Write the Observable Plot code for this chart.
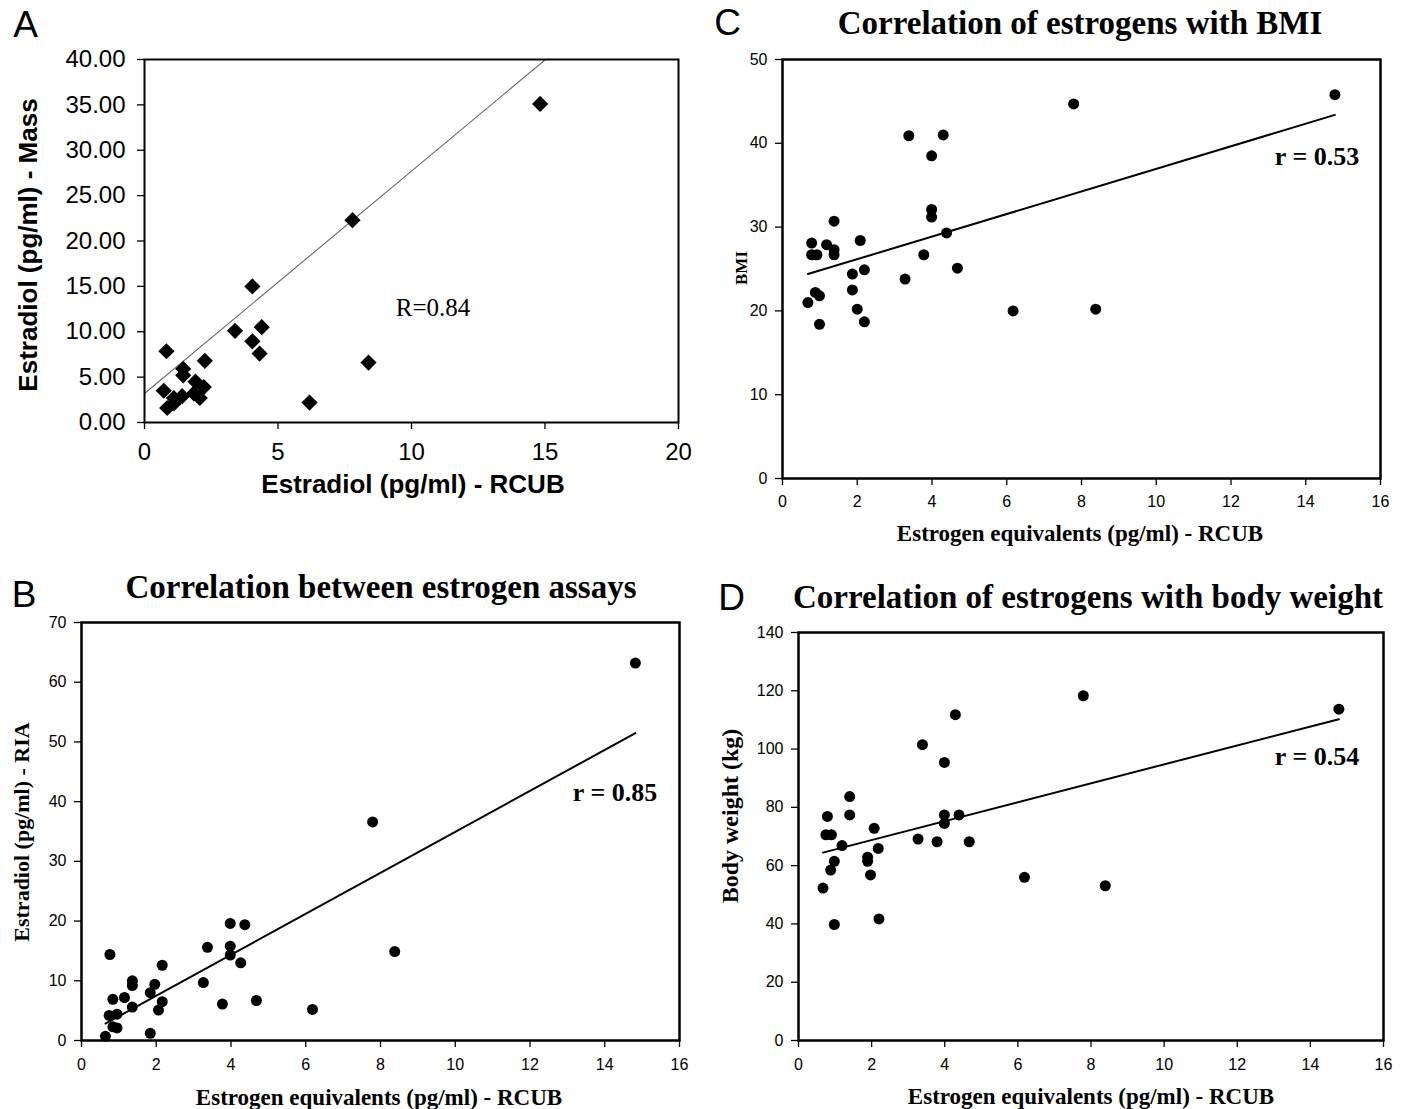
<!DOCTYPE html>
<html><head><meta charset="utf-8">
<script src="https://cdn.jsdelivr.net/npm/d3@7"></script>
<script src="https://cdn.jsdelivr.net/npm/@observablehq/plot@0.6"></script>
<style>
html,body{margin:0;padding:0;background:#fff;}
#page{position:relative;width:1403px;height:1109px;background:#fff;overflow:hidden;}
.panel{position:absolute;}
.t{position:absolute;transform:translate(-50%,-50%);line-height:1;white-space:nowrap;color:#000;}
.rot{transform:translate(-50%,-50%) rotate(-90deg);}
.sans{font-family:"Liberation Sans",Arial,sans-serif;}
.serif{font-family:"Liberation Serif","Times New Roman",serif;}
.b{font-weight:bold;}
</style></head><body><div id="page"></div>
<script>
// ---------- DATA ----------
// Panel A: Estradiol (pg/ml) - RCUB vs Estradiol (pg/ml) - Mass
const rcubA = [14.82, 7.79, 4.04, 3.39, 4.39, 4.04, 4.31, 8.39, 6.18, 0.82, 2.26, 1.45, 1.45, 0.72, 1.91, 2.22, 1.41, 1.10, 2.07, 0.85, 1.10, 1.85];
const massA = [35.1, 22.3, 15.0, 10.1, 10.5, 8.95, 7.6, 6.6, 2.2, 7.85, 6.8, 5.9, 5.2, 3.5, 4.5, 3.9, 2.9, 2.7, 2.7, 1.6, 2.1, 3.2];

// Panel B: Estrogen equivalents (RCUB) vs Estradiol RIA
const rcubB = [14.82, 7.79, 8.38, 6.18, 3.98, 4.37, 3.37, 3.98, 3.98, 4.26, 3.26, 3.77, 4.68, 0.76, 2.16, 1.36, 1.36, 1.96, 1.84, 0.84, 1.15, 1.36, 2.16, 2.06, 0.74, 0.95, 0.84, 0.95, 1.84, 0.64];
const riaB  = [63.2, 36.6, 14.9, 5.2, 19.6, 19.4, 15.6, 15.8, 14.3, 13.0, 9.7, 6.1, 6.7, 14.4, 12.6, 10.0, 9.2, 9.4, 8.0, 6.9, 7.2, 5.6, 6.5, 5.1, 4.2, 4.4, 2.3, 2.1, 1.2, 0.7];

// Panel C: Estrogen equivalents (RCUB) vs BMI
const rcubC = [14.78, 7.79, 3.38, 4.30, 3.99, 3.99, 3.99, 4.39, 1.38, 2.08, 0.78, 1.18, 1.38, 1.38, 0.78, 0.92, 3.78, 4.68, 2.19, 1.87, 3.28, 1.87, 0.88, 0.99, 0.68, 2.00, 6.17, 8.38, 0.99, 2.19];
const bmiC  = [45.8, 44.7, 40.9, 41.0, 38.5, 32.1, 31.2, 29.3, 30.7, 28.4, 28.1, 27.9, 27.3, 26.7, 26.7, 26.7, 26.7, 25.1, 24.9, 24.4, 23.8, 22.5, 22.2, 21.8, 21.0, 20.2, 20.0, 20.2, 18.4, 18.7];

// Panel D: Estrogen equivalents (RCUB) vs Body weight (kg)
const rcubD   = [14.78, 7.79, 4.29, 3.39, 3.99, 1.40, 0.79, 1.40, 3.99, 4.39, 3.99, 2.07, 0.75, 0.90, 1.19, 3.27, 3.79, 4.67, 2.18, 1.89, 1.89, 0.98, 0.88, 1.97, 6.18, 8.39, 0.67, 2.20, 0.98];
const weightD = [113.7, 118.3, 111.8, 101.5, 95.4, 83.7, 76.9, 77.4, 77.4, 77.4, 74.5, 72.8, 70.6, 70.6, 66.9, 69.1, 68.2, 68.2, 65.9, 62.9, 61.5, 61.5, 58.5, 56.8, 56.0, 53.1, 52.3, 41.7, 39.8];

// Trend lines
const fitPanels     = ["A", "B", "C", "D"];
const fitSlopes     = [2.45, 3.43, 1.347, 3.245];
const fitIntercepts = [3.2, 0.64, 23.48, 62.3];

// Tick values
const ticksA_x = [0, 5, 10, 15, 20];
const ticksA_y = [0, 5, 10, 15, 20, 25, 30, 35, 40];
const ticksRCUB = [0, 2, 4, 6, 8, 10, 12, 14, 16];
const ticksB_y = [0, 10, 20, 30, 40, 50, 60, 70];
const ticksC_y = [0, 10, 20, 30, 40, 50];
const ticksD_y = [0, 20, 40, 60, 80, 100, 120, 140];

// ---------- RENDER ----------
const page = document.getElementById("page");

function fit(panel) {
  const i = fitPanels.indexOf(panel);
  return {slope: fitSlopes[i], intercept: fitIntercepts[i]};
}

function makePanel(o) {
  const pts = o.xs.map((x, i) => ({x, y: o.ys[i]}));
  const {slope, intercept} = fit(o.panel);
  const lx = o.fullLine ? o.xDomain : d3.extent(o.xs);
  const line = lx.map(x => ({x, y: intercept + slope * x}));
  const chart = Plot.plot({
    width: o.width, height: o.height,
    marginLeft: o.m[0], marginTop: o.m[1], marginRight: o.m[2], marginBottom: o.m[3],
    x: {domain: o.xDomain},
    y: {domain: o.yDomain},
    style: {background: "transparent", color: "black", fontFamily: '"Liberation Sans", Arial, sans-serif', fontSize: o.tickFont + "px"},
    marks: [
      Plot.axisX({ticks: o.xTicks, tickSize: 7, tickPadding: o.xPad, label: null, strokeWidth: 1.3, tickFormat: o.xFormat || (d => String(d))}),
      Plot.axisY({ticks: o.yTicks, tickSize: 7, tickPadding: o.yPad, label: null, strokeWidth: 1.3, tickFormat: o.yFormat || (d => String(d))}),
      Plot.line(line, {x: "x", y: "y", stroke: o.lineStroke, strokeWidth: o.lineWidth, clip: true}),
      Plot.dot(pts, {x: "x", y: "y", r: o.r, symbol: o.symbol, fill: "black", stroke: "none"}),
      Plot.frame({stroke: "black", strokeWidth: o.frameWidth})
    ]
  });
  const div = document.createElement("div");
  div.className = "panel";
  div.style.left = o.left + "px";
  div.style.top = o.top + "px";
  div.appendChild(chart);
  page.appendChild(div);
}

makePanel({panel: "A", left: 0, top: 0, width: 700, height: 520, m: [144, 59, 22, 98],
  xDomain: [0, 20], yDomain: [0, 40], xTicks: ticksA_x, yTicks: ticksA_y, yFormat: d3.format(".2f"),
  xs: rcubA, ys: massA, symbol: "diamond2", r: 7.3, fullLine: true, lineStroke: "#666", lineWidth: 1.1,
  frameWidth: 2, tickFont: 24, xPad: 13, yPad: 12});

makePanel({panel: "B", left: 0, top: 540, width: 700, height: 569, m: [81, 82, 21, 69],
  xDomain: [0, 16], yDomain: [0, 70], xTicks: ticksRCUB, yTicks: ticksB_y,
  xs: rcubB, ys: riaB, symbol: "circle", r: 5.5, lineStroke: "black", lineWidth: 2,
  frameWidth: 2.5, tickFont: 16, xPad: 11, yPad: 8});

makePanel({panel: "C", left: 700, top: 0, width: 703, height: 560, m: [82, 59, 23, 82],
  xDomain: [0, 16], yDomain: [0, 50], xTicks: ticksRCUB, yTicks: ticksC_y,
  xs: rcubC, ys: bmiC, symbol: "circle", r: 5.5, lineStroke: "black", lineWidth: 2,
  frameWidth: 2.5, tickFont: 16, xPad: 10, yPad: 8});

makePanel({panel: "D", left: 700, top: 540, width: 703, height: 569, m: [98, 92, 20, 69],
  xDomain: [0, 16], yDomain: [0, 140], xTicks: ticksRCUB, yTicks: ticksD_y,
  xs: rcubD, ys: weightD, symbol: "circle", r: 5.5, lineStroke: "black", lineWidth: 2,
  frameWidth: 2.5, tickFont: 16, xPad: 11, yPad: 8});

// ---------- TEXT (panel letters, titles, axis titles, annotations) ----------
function addText(txt, x, y, size, cls, rot) {
  const d = document.createElement("div");
  d.className = "t " + cls + (rot ? " rot" : "");
  d.style.left = x + "px";
  d.style.top = y + "px";
  d.style.fontSize = size + "px";
  d.textContent = txt;
  page.appendChild(d);
}
addText("A", 25.5, 23.5, 37, "sans");
addText("B", 24, 593.5, 37, "sans");
addText("C", 727.5, 21.5, 37, "sans");
addText("D", 731.5, 597, 37, "sans");

addText("Estradiol (pg/ml) - Mass", 28, 245, 26, "sans b", true);
addText("Estradiol (pg/ml) - RCUB", 413, 484, 26, "sans b");
addText("R=0.84", 433, 307, 25, "serif");

addText("Correlation between estrogen assays", 381, 587, 33, "serif b");
addText("Estradiol (pg/ml) - RIA", 22, 832, 22, "serif b", true);
addText("Estrogen equivalents (pg/ml) - RCUB", 379, 1097, 23, "serif b");
addText("r = 0.85", 615, 793, 26, "serif b");

addText("Correlation of estrogens with BMI", 1080, 22.5, 33, "serif b");
addText("BMI", 741, 268, 17, "serif b", true);
addText("Estrogen equivalents (pg/ml) - RCUB", 1080, 533, 23, "serif b");
addText("r = 0.53", 1317, 157, 26, "serif b");

addText("Correlation of estrogens with body weight", 1088, 597, 33, "serif b");
addText("Body weight (kg)", 730, 816, 24, "serif b", true);
addText("Estrogen equivalents (pg/ml) - RCUB", 1091, 1096, 23, "serif b");
addText("r = 0.54", 1317, 757, 26, "serif b");
</script></body></html>
